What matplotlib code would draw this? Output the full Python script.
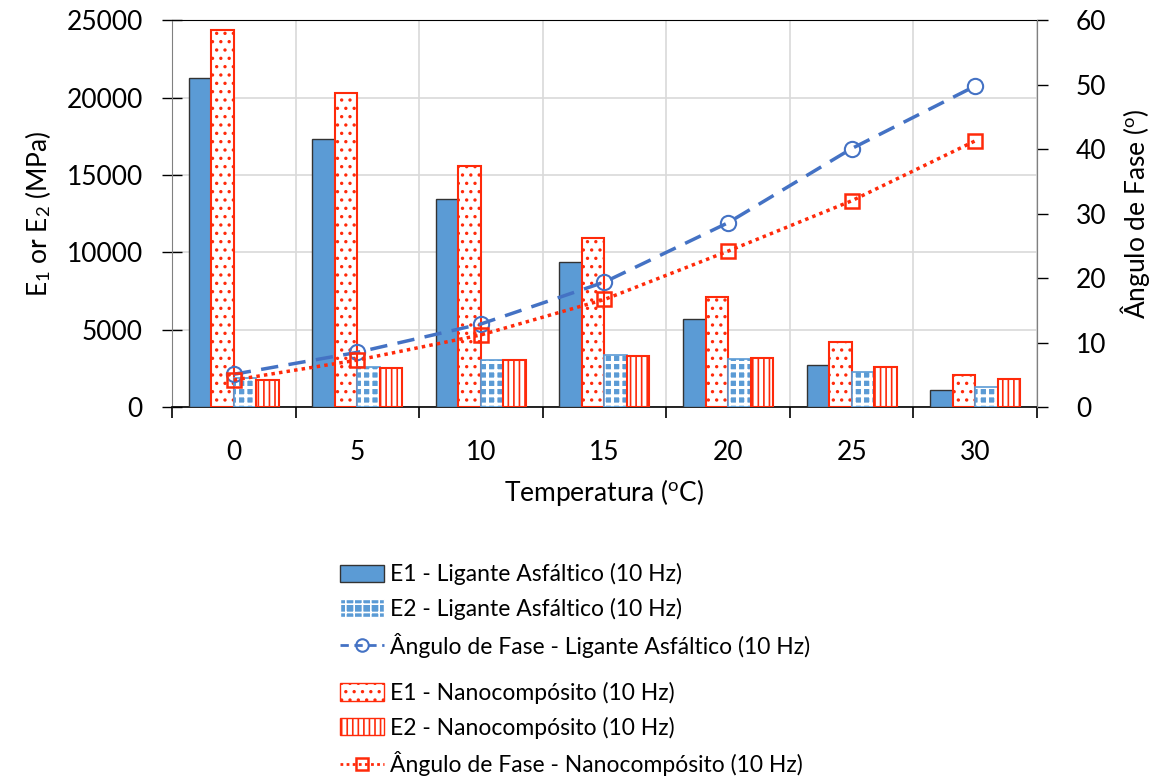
import matplotlib
matplotlib.use('Agg')
import matplotlib.pyplot as plt
import numpy as np
from matplotlib.patches import Patch
from matplotlib.lines import Line2D

plt.rcParams['font.family'] = ['Lato', 'DejaVu Sans']
plt.rcParams['mathtext.fontset'] = 'custom'
plt.rcParams['mathtext.rm'] = 'Lato'
plt.rcParams['mathtext.it'] = 'Lato:italic'
plt.rcParams['hatch.linewidth'] = 1.2

temps = ['0', '5', '10', '15', '20', '25', '30']
e1_ligante = [21300, 17300, 13450, 9400, 5700, 2700, 1100]
e1_nano = [24400, 20300, 15600, 10950, 7150, 4200, 2050]
e2_ligante = [1900, 2600, 3050, 3400, 3100, 2300, 1300]
e2_nano = [1750, 2500, 3050, 3300, 3200, 2600, 1800]
fase_ligante = [5.1, 8.5, 12.9, 19.4, 28.6, 40.1, 49.8]
fase_nano = [4.2, 7.3, 11.2, 16.7, 24.2, 32.0, 41.3]

blue = '#5B9BD5'
line_blue = '#4472C4'
red = '#FF2A0A'

fig = plt.figure(figsize=(11.58, 7.8), dpi=100)
ax = fig.add_axes([0.1485, 0.478, 0.747, 0.496])
x = np.arange(len(temps))
w = 0.182

ax.bar(x - 1.5 * w, e1_ligante, w, color=blue, edgecolor='#333333', linewidth=1, zorder=3)
ax.bar(x - 0.5 * w, e1_nano, w, color='white', edgecolor=red, hatch='..', linewidth=1.5, zorder=3)
plt.rcParams['hatch.linewidth'] = 2.2
ax.bar(x + 0.5 * w, e2_ligante, w, color=blue, edgecolor='white', hatch='++', linewidth=0, zorder=3)
check_patch = Patch(facecolor=blue, edgecolor='white', hatch='++', label='E2 - Ligante Asfáltico (10 Hz)')
plt.rcParams['hatch.linewidth'] = 1.2
ax.bar(x + 0.5 * w, e2_ligante, w, color='none', edgecolor=blue, linewidth=1.2, zorder=3)
ax.bar(x + 1.5 * w, e2_nano, w, color='white', edgecolor=red, hatch='|||', linewidth=1.5, zorder=3)

ax.set_xlim(-0.5, len(temps) - 0.5)
ax.set_ylim(0, 25000)
ax.set_yticks(np.arange(0, 25001, 5000))
ax.set_xticks(x)
ax.set_xticklabels(temps)
ax.set_xticks(np.arange(-0.5, len(temps), 1), minor=True)
ax.tick_params(axis='x', which='major', length=0, pad=24, labelsize=19)
ax.tick_params(axis='x', which='minor', length=8, direction='out', width=1.2)
ax.tick_params(axis='y', direction='inout', length=14, width=1, pad=14, labelsize=19)
ax.grid(True, axis='y', color='#D9D9D9', linewidth=1.2, zorder=0)
ax.grid(True, axis='x', which='minor', color='#D9D9D9', linewidth=1.2, zorder=0)
ax.set_axisbelow(True)
for s in ['left', 'right']:
    ax.spines[s].set_color('#808080')
ax.spines['top'].set_color('black')
ax.spines['bottom'].set_color('black')
ax.spines['bottom'].set_linewidth(1.2)
ax.set_xlabel(r'Temperatura ($^{\rm o}$C)', fontsize=19, labelpad=8)
ax.set_ylabel(r'E$_1$ or E$_2$ (MPa)', fontsize=19, labelpad=10)

ax2 = ax.twinx()
ax2.set_ylim(0, 60)
ax2.set_yticks(np.arange(0, 61, 10))
ax2.plot(x, fase_ligante, linestyle=(0, (5, 3)), color=line_blue, linewidth=2.5,
         marker='o', markersize=11, markerfacecolor='none', markeredgecolor=line_blue,
         markeredgewidth=1.5, zorder=4)
ax2.plot(x, fase_nano, linestyle=(0, (1, 1.2)), color=red, linewidth=2.5,
         marker='s', markersize=10, markerfacecolor='none', markeredgecolor=red,
         markeredgewidth=1.8, zorder=4)
ax2.tick_params(axis='y', direction='out', length=8, width=1, pad=20, labelsize=19)
ax2.spines['right'].set_color('#808080')
ax2.spines['left'].set_visible(False)
ax2.spines['top'].set_visible(False)
ax2.spines['bottom'].set_visible(False)
ax2.set_ylabel(r'Ângulo de Fase ($^{\rm o}$)', fontsize=19, labelpad=8)

h1 = [Patch(facecolor=blue, edgecolor='#333333', label='E1 - Ligante Asfáltico (10 Hz)'),
      check_patch,
      Line2D([], [], linestyle=(0, (3, 2)), color=line_blue, linewidth=2, marker='o',
             markersize=9, markerfacecolor='none', markeredgewidth=1.5,
             label='Ângulo de Fase - Ligante Asfáltico (10 Hz)')]
h2 = [Patch(facecolor='white', edgecolor=red, hatch='..', label='E1 - Nanocompósito (10 Hz)'),
      Patch(facecolor='white', edgecolor=red, hatch='|||', label='E2 - Nanocompósito (10 Hz)'),
      Line2D([], [], linestyle=(0, (1, 1.2)), color=red, linewidth=2, marker='s',
             markersize=9, markerfacecolor='none', markeredgewidth=1.8,
             label='Ângulo de Fase - Nanocompósito (10 Hz)')]
leg_kw = dict(loc='upper left', frameon=False, fontsize=16.5, handlelength=1.9,
              handleheight=0.8, labelspacing=0.55, handletextpad=0.25, borderaxespad=0,
              borderpad=0)
fig.legend(handles=h1, bbox_to_anchor=(0.294, 0.278), **leg_kw)
fig.legend(handles=h2, bbox_to_anchor=(0.294, 0.126), **leg_kw)

fig.savefig('out.png', dpi=100)
